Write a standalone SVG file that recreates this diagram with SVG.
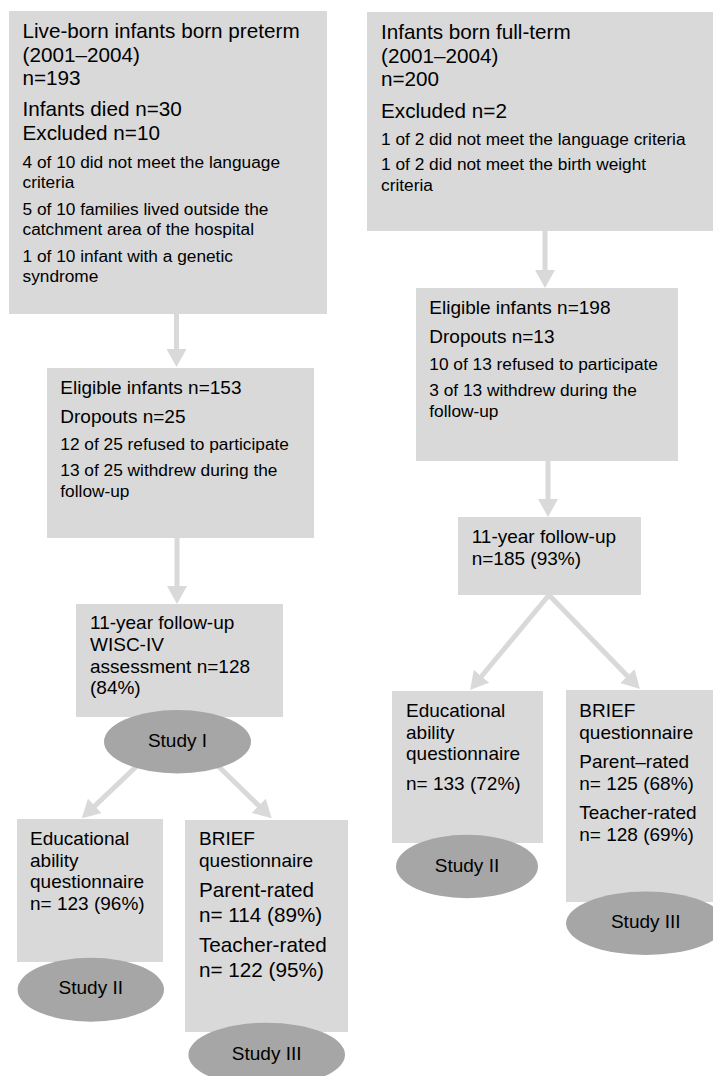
<svg xmlns="http://www.w3.org/2000/svg" width="713" height="1076" viewBox="0 0 713 1076">
<defs>
<style>
.box{fill:#d9d9d9}
.ell{fill:#a6a6a6}
text{font-family:"Liberation Sans",Arial,sans-serif;fill:#000}
.L{font-size:20.7px}
.M{font-size:19px}
.S{font-size:17.3px}
.c{text-anchor:middle}
.arr{stroke:#d9d9d9;stroke-width:5;fill:none;marker-end:url(#ah)}
</style>
<marker id="ah" viewBox="0 0 18 20" markerWidth="18" markerHeight="20" markerUnits="userSpaceOnUse" refX="1" refY="10" orient="auto">
<path d="M0,0 L18,10 L0,20 z" fill="#d9d9d9"/>
</marker>
</defs>
<rect width="713" height="1076" fill="#fff"/>
<g id="connectors">
<line class="arr" x1="176.5" y1="314" x2="176.5" y2="350"/>
<line class="arr" x1="177" y1="538" x2="177" y2="587"/>
<line class="arr" x1="140" y1="763" x2="94.1" y2="806.6"/>
<line class="arr" x1="215" y1="763" x2="259.5" y2="806.4"/>
<line class="arr" x1="545" y1="231" x2="545" y2="271"/>
<line class="arr" x1="548" y1="461" x2="548" y2="500"/>
<line class="arr" x1="549" y1="595" x2="480.9" y2="677"/>
<line class="arr" x1="549" y1="595" x2="628.1" y2="676.8"/>
</g>
<g id="preterm">
<rect class="box" x="9" y="11" width="318" height="303"/>
<text class="L" x="22.5" y="38">Live-born infants born preterm</text>
<text class="L" x="22.5" y="61.5">(2001–2004)</text>
<text class="L" x="22.5" y="85">n=193</text>
<text class="L" x="22.5" y="116">Infants died n=30</text>
<text class="L" x="22.5" y="139.5">Excluded n=10</text>
<text class="S" x="22.5" y="167.5">4 of 10 did not meet the language</text>
<text class="S" x="22.5" y="188">criteria</text>
<text class="S" x="22.5" y="214.5">5 of 10 families lived outside the</text>
<text class="S" x="22.5" y="235">catchment area of the hospital</text>
<text class="S" x="22.5" y="261.5">1 of 10 infant with a genetic</text>
<text class="S" x="22.5" y="282">syndrome</text>
</g>
<g id="eligible-preterm">
<rect class="box" x="47" y="368" width="267" height="170"/>
<text class="M" x="60.3" y="394">Eligible infants n=153</text>
<text class="M" x="60.3" y="423">Dropouts n=25</text>
<text class="S" x="60.3" y="449.5">12 of 25 refused to participate</text>
<text class="S" x="60.3" y="476">13 of 25 withdrew during the</text>
<text class="S" x="60.3" y="496.5">follow-up</text>
</g>
<g id="followup-preterm">
<rect class="box" x="76" y="604" width="207" height="113"/>
<text class="M" x="90" y="629.3">11-year follow-up</text>
<text class="M" x="90" y="651">WISC-IV</text>
<text class="M" x="90" y="672.7">assessment n=128</text>
<text class="M" x="90" y="694.4">(84%)</text>
</g>
<g id="study1">
<ellipse class="ell" cx="177.5" cy="741.7" rx="73.5" ry="31.7"/>
<text class="M c" x="177.5" y="747">Study I</text>
</g>
<g id="edu-preterm">
<rect class="box" x="17" y="819" width="146" height="143"/>
<text class="M" x="30" y="845">Educational</text>
<text class="M" x="30" y="866.5">ability</text>
<text class="M" x="30" y="888">questionnaire</text>
<text class="M" x="30" y="910">n= 123 (96%)</text>
</g>
<g id="study2-preterm">
<ellipse class="ell" cx="90.8" cy="989.7" rx="73.2" ry="32"/>
<text class="M c" x="90.8" y="994">Study II</text>
</g>
<g id="brief-preterm">
<rect class="box" x="185" y="820" width="163" height="212"/>
<text class="M" x="199" y="845">BRIEF</text>
<text class="M" x="199" y="866.5">questionnaire</text>
<text class="L" x="199" y="897.3">Parent-rated</text>
<text class="L" x="199" y="921.7">n= 114 (89%)</text>
<text class="L" x="199" y="952.3">Teacher-rated</text>
<text class="L" x="199" y="976.5">n= 122 (95%)</text>
</g>
<g id="study3-preterm">
<ellipse class="ell" cx="266.7" cy="1054.7" rx="78.3" ry="32"/>
<text class="M c" x="266.7" y="1059.5">Study III</text>
</g>
<g id="fullterm">
<rect class="box" x="367" y="12" width="350" height="219"/>
<text class="L" x="381" y="39">Infants born full-term</text>
<text class="L" x="381" y="62.5">(2001–2004)</text>
<text class="L" x="381" y="86">n=200</text>
<text class="L" x="381" y="118">Excluded n=2</text>
<text class="S" x="381" y="144.5">1 of 2 did not meet the language criteria</text>
<text class="S" x="381" y="170">1 of 2 did not meet the birth weight</text>
<text class="S" x="381" y="191">criteria</text>
</g>
<g id="eligible-fullterm">
<rect class="box" x="416" y="288" width="262" height="173"/>
<text class="M" x="429.3" y="313.5">Eligible infants n=198</text>
<text class="M" x="429.3" y="342.5">Dropouts n=13</text>
<text class="S" x="429.3" y="369.5">10 of 13 refused to participate</text>
<text class="S" x="429.3" y="396">3 of 13 withdrew during the</text>
<text class="S" x="429.3" y="416.5">follow-up</text>
</g>
<g id="followup-fullterm">
<rect class="box" x="458" y="517" width="183" height="78"/>
<text class="M" x="471.7" y="543.3">11-year follow-up</text>
<text class="M" x="471.7" y="565">n=185 (93%)</text>
</g>
<g id="edu-fullterm">
<rect class="box" x="392" y="691" width="151" height="152"/>
<text class="M" x="406" y="716.7">Educational</text>
<text class="M" x="406" y="738.5">ability</text>
<text class="M" x="406" y="760.3">questionnaire</text>
<text class="M" x="406" y="790">n= 133 (72%)</text>
</g>
<g id="study2-fullterm">
<ellipse class="ell" cx="467" cy="866.5" rx="71" ry="31.7"/>
<text class="M c" x="467" y="871.5">Study II</text>
</g>
<g id="brief-fullterm">
<rect class="box" x="566" y="690" width="150" height="212"/>
<text class="M" x="579.3" y="716.7">BRIEF</text>
<text class="M" x="579.3" y="738.5">questionnaire</text>
<text class="M" x="579.3" y="767.5">Parent–rated</text>
<text class="M" x="579.3" y="790">n= 125 (68%)</text>
<text class="M" x="579.3" y="818.8">Teacher-rated</text>
<text class="M" x="579.3" y="841">n= 128 (69%)</text>
</g>
<g id="study3-fullterm">
<ellipse class="ell" cx="645.8" cy="923.3" rx="79.8" ry="31.7"/>
<text class="M c" x="645.8" y="927.5">Study III</text>
</g>
</svg>
